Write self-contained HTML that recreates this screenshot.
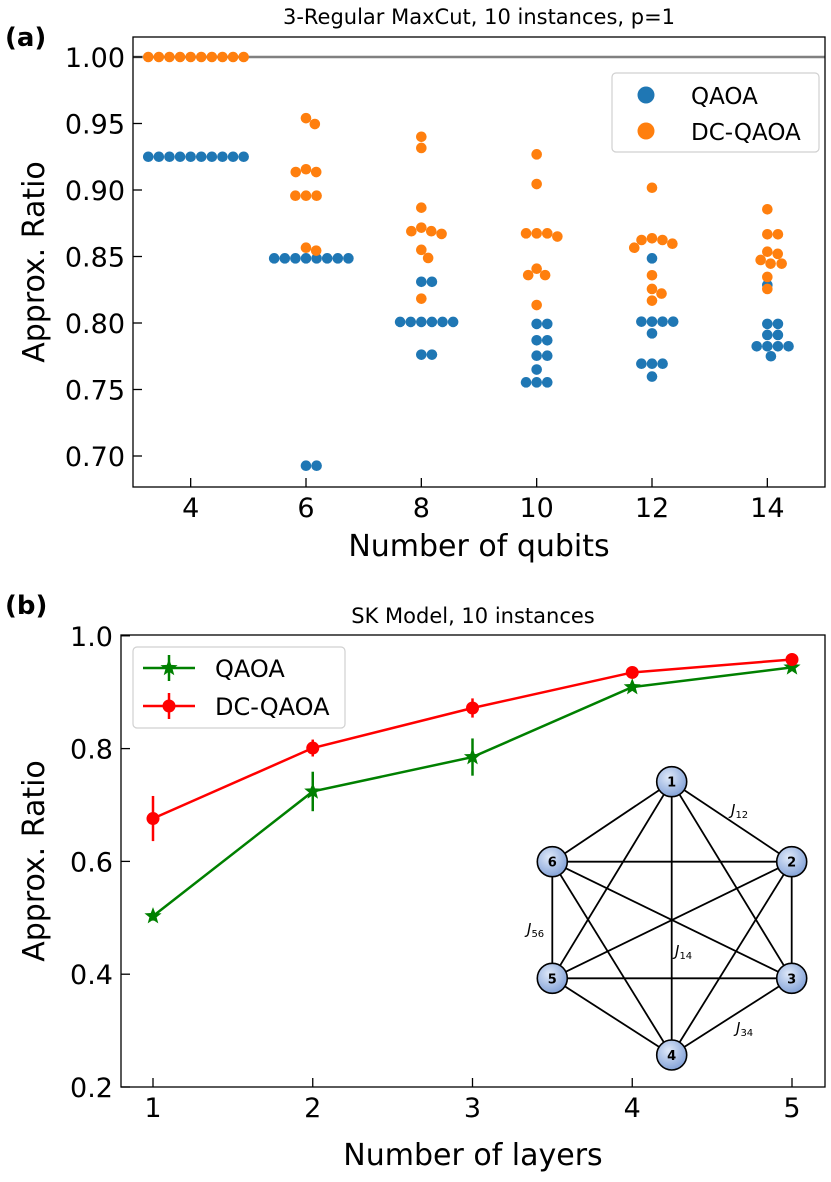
<!DOCTYPE html>
<html><head><meta charset="utf-8"><style>
body{margin:0;background:#fff;}
svg text{font-family:"DejaVu Sans","Liberation Sans",sans-serif;}
</style></head><body>
<svg id="fig" width="831" height="1177" viewBox="0 0 831 1177" xmlns="http://www.w3.org/2000/svg">
<defs><radialGradient id="ng" cx="40%" cy="35%" r="70%"><stop offset="0" stop-color="#dfe9f9"/><stop offset="1" stop-color="#7f9fd6"/></radialGradient></defs>
<text x="5" y="46" font-size="26" font-weight="bold">(a)</text>
<text x="479" y="24" font-size="21" text-anchor="middle">3-Regular MaxCut, 10 instances, p=1</text>
<g id="top"></g>
<text x="5" y="614" font-size="26" font-weight="bold">(b)</text>
<text x="473" y="623" font-size="21" text-anchor="middle">SK Model, 10 instances</text>
<g id="bot"></g>
</svg>
<script>
const NS="http://www.w3.org/2000/svg";
// ---- top chart data ----
const qubitCats=[4,6,8,10,12,14];
const qaoaVals=[
 [0.925,0.925,0.925,0.925,0.925,0.925,0.925,0.925,0.925,0.925],
 [0.8486,0.8486,0.8486,0.8486,0.8486,0.8486,0.8486,0.8486,0.6927,0.6927],
 [0.831,0.831,0.8008,0.8008,0.8008,0.8008,0.8008,0.8008,0.7762,0.7762],
 [0.7993,0.7993,0.787,0.787,0.7754,0.7754,0.765,0.7554,0.7554,0.7554],
 [0.8486,0.801,0.801,0.801,0.801,0.7922,0.7694,0.7694,0.7694,0.7597],
 [0.8286,0.7993,0.7993,0.791,0.791,0.7825,0.7825,0.7825,0.7825,0.775]];
const dcVals=[
 [1,1,1,1,1,1,1,1,1,1],
 [0.954,0.9496,0.9156,0.9135,0.9135,0.8957,0.8957,0.8957,0.8566,0.8544],
 [0.940,0.9316,0.8867,0.8717,0.869,0.869,0.867,0.855,0.8489,0.8183],
 [0.9268,0.9045,0.8674,0.8674,0.8674,0.865,0.8408,0.836,0.836,0.8135],
 [0.9017,0.8637,0.8624,0.8624,0.8596,0.8566,0.8359,0.8256,0.8221,0.8168],
 [0.8855,0.8667,0.8667,0.8536,0.852,0.8474,0.8446,0.8446,0.8346,0.8256]];
const topYTicks=[0.70,0.75,0.80,0.85,0.90,0.95,1.00];
// ---- bottom chart data ----
const layers=[1,2,3,4,5];
const qaoaMean=[0.503,0.724,0.785,0.909,0.944];
const qaoaErr=[0.008,0.035,0.033,0.006,0.005];
const dcMean=[0.676,0.801,0.872,0.935,0.958];
const dcErr=[0.04,0.015,0.017,0.005,0.004];
const botYTicks=[0.2,0.4,0.6,0.8,1.0];

function el(tag,attrs,parent,text){const e=document.createElementNS(NS,tag);for(const k in attrs)e.setAttribute(k,attrs[k]);if(text!==undefined)e.textContent=text;parent.appendChild(e);return e;}
function starPts(cx,cy,ro,ri){const p=[];for(let k=0;k<10;k++){const r=k%2?ri:ro;const a=-Math.PI/2+k*Math.PI/5;p.push((cx+r*Math.cos(a)).toFixed(2)+','+(cy+r*Math.sin(a)).toFixed(2));}return p.join(' ');}

// ---- top chart ----
const T=document.getElementById('top');
const tL=133,tR=825,tT=37,tB=487;
const tx=i=>tL+(i+0.5)*(tR-tL)/6;
const ty=v=>57+(1-v)*1330;
el('line',{x1:tL,x2:tR,y1:ty(1),y2:ty(1),stroke:'#808080','stroke-width':2.5},T);
const R=5.3,D=10.6;
function swarm(vals,cx,color,name){
  const sorted=vals.slice().sort((a,b)=>b-a);
  const placed=[];
  sorted.forEach(v=>{
    const y=ty(v);
    const cands=[0];
    placed.forEach(p=>{const dy=Math.abs(p.y-y);if(dy<D){const dx=Math.sqrt(D*D-dy*dy);cands.push(p.x+dx,p.x-dx);}});
    cands.sort((a,b)=>Math.abs(a)-Math.abs(b)||b-a);
    let x=0;
    for(const c of cands){if(placed.every(p=>Math.hypot(p.x-c,p.y-y)>=D-0.01)){x=c;break;}}
    placed.push({x,y});
    const c=el('circle',{cx:cx+x,cy:y,r:R,fill:color},T);
    
    
  });
}
qubitCats.forEach((q,i)=>{swarm(qaoaVals[i],tx(i),'#1f77b4','qaoa-point');swarm(dcVals[i],tx(i),'#ff7f0e','dc-qaoa-point');});
el('rect',{x:tL,y:tT,width:tR-tL,height:tB-tT,fill:'none',stroke:'#000','stroke-width':1.3},T);
topYTicks.forEach(v=>{
  el('line',{x1:tL,x2:tL+9,y1:ty(v),y2:ty(v),stroke:'#000','stroke-width':1.3},T);
  const t=el('text',{x:tL-8,y:ty(v)+10,'font-size':27,'text-anchor':'end'},T,v.toFixed(2));
  
  
});
qubitCats.forEach((q,i)=>{
  el('line',{x1:tx(i),x2:tx(i),y1:tB,y2:tB-9,stroke:'#000','stroke-width':1.3},T);
  const t=el('text',{x:tx(i),y:517,'font-size':27,'text-anchor':'middle'},T,q);
  
  
});
el('text',{x:479,y:556,'font-size':30,'text-anchor':'middle',},T,'Number of qubits');
el('text',{x:0,y:0,'font-size':30,'text-anchor':'middle',transform:'translate(44,262) rotate(-90)',},T,'Approx. Ratio');
const lg=el('g',{},T);
el('rect',{x:612,y:73,width:207,height:79,rx:4,fill:'#fff',stroke:'#d0d0d0','stroke-width':1.2},lg);
el('circle',{cx:646,cy:95,r:8.5,fill:'#1f77b4'},lg);
el('circle',{cx:646,cy:131,r:8.5,fill:'#ff7f0e'},lg);
el('text',{x:691,y:104,'font-size':23},lg,'QAOA');
el('text',{x:691,y:140,'font-size':23},lg,'DC-QAOA');

// ---- bottom chart ----
const B=document.getElementById('bot');
const bL=121,bR=825,bT=635,bB=1087;
const bx=v=>153+(v-1)*159.75;
const by=v=>bB-(v-0.2)*564;
const nodes=[[671.7,781.7],[791.7,861.7],[791.7,978.3],[671.7,1055],[552.3,978.3],[552.3,861.7]];
const ig=el('g',{},B);
for(let i=0;i<6;i++)for(let j=i+1;j<6;j++)el('line',{x1:nodes[i][0],y1:nodes[i][1],x2:nodes[j][0],y2:nodes[j][1],stroke:'#000','stroke-width':1.8},ig);
nodes.forEach((n,i)=>{el('circle',{cx:n[0],cy:n[1],r:15,fill:'url(#ng)',stroke:'#000','stroke-width':1.6},ig);el('text',{x:n[0],y:n[1]+5,'font-size':13,'font-weight':'bold','text-anchor':'middle'},ig,i+1);});
[['12',731,815],['56',527,934],['14',675,956],['34',736,1033]].forEach(a=>{const t=el('text',{x:a[1],y:a[2],'font-size':15,'font-style':'italic','font-family':'Liberation Serif,serif'},ig,'J');el('tspan',{'font-size':10,'font-style':'normal',dy:3},t,a[0]);});
function series(mean,err,color,marker,name){
  const g=el('g',{},B);
  
  
  el('polyline',{points:layers.map((l,i)=>bx(l)+','+by(mean[i])).join(' '),fill:'none',stroke:color,'stroke-width':2.5},g);
  layers.forEach((l,i)=>{
    el('line',{x1:bx(l),x2:bx(l),y1:by(mean[i]-err[i]),y2:by(mean[i]+err[i]),stroke:color,'stroke-width':2.5},g);
    if(marker==='o')el('circle',{cx:bx(l),cy:by(mean[i]),r:6.5,fill:color},g);
    else el('polygon',{points:starPts(bx(l),by(mean[i]),9,3.8),fill:color},g);
  });
}
series(qaoaMean,qaoaErr,'#008000','*','qaoa-series');
series(dcMean,dcErr,'#ff0000','o','dc-qaoa-series');
el('rect',{x:bL,y:bT,width:bR-bL,height:bB-bT,fill:'none',stroke:'#000','stroke-width':1.3},B);
botYTicks.forEach(v=>{
  el('line',{x1:bL,x2:bL+9,y1:by(v),y2:by(v),stroke:'#000','stroke-width':1.3},B);
  const t=el('text',{x:bL-8,y:by(v)+10,'font-size':27,'text-anchor':'end'},B,v.toFixed(1));
  
  
});
layers.forEach(l=>{
  el('line',{x1:bx(l),x2:bx(l),y1:bB,y2:bB-9,stroke:'#000','stroke-width':1.3},B);
  const t=el('text',{x:bx(l),y:1117,'font-size':27,'text-anchor':'middle'},B,l);
  
  
});
el('text',{x:473,y:1165,'font-size':30,'text-anchor':'middle',},B,'Number of layers');
el('text',{x:0,y:0,'font-size':30,'text-anchor':'middle',transform:'translate(44,861) rotate(-90)',},B,'Approx. Ratio');
const bl=el('g',{},B);
el('rect',{x:133,y:647,width:212,height:81,rx:4,fill:'#fff',stroke:'#d0d0d0','stroke-width':1.2},bl);
el('line',{x1:143,x2:195,y1:668,y2:668,stroke:'#008000','stroke-width':2.5},bl);
el('line',{x1:169,x2:169,y1:655,y2:681,stroke:'#008000','stroke-width':2.5},bl);
el('polygon',{points:starPts(169,668,9,3.8),fill:'#008000'},bl);
el('line',{x1:143,x2:195,y1:706,y2:706,stroke:'#ff0000','stroke-width':2.5},bl);
el('line',{x1:169,x2:169,y1:693,y2:719,stroke:'#ff0000','stroke-width':2.5},bl);
el('circle',{cx:169,cy:706,r:6.5,fill:'#ff0000'},bl);
el('text',{x:215,y:677,'font-size':24},bl,'QAOA');
el('text',{x:215,y:715,'font-size':24},bl,'DC-QAOA');
</script>
</body></html>
